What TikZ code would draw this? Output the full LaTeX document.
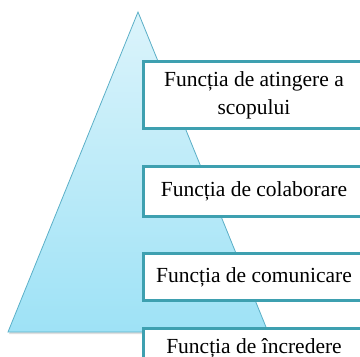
\documentclass[tikz,border=0pt]{standalone}
\usepackage{fontspec}
\setmainfont{Liberation Serif}
\usetikzlibrary{positioning, shadows}
\definecolor{myteal}{RGB}{62, 160, 176}
\definecolor{pyrtop}{RGB}{220, 244, 251}
\definecolor{pyrbottom}{RGB}{158, 226, 246}
\definecolor{pyredge}{RGB}{92, 176, 200}

\begin{document}
\begin{tikzpicture}[
    x=1pt, y=-1pt,
    level/.style={rectangle, draw=myteal, line width=3pt, fill=white, minimum width=221pt, anchor=north west, align=center, inner sep=0pt, font=\fontsize{21.5}{28}\selectfont},
    pyramid/.style={draw=pyredge, line width=0.8pt, top color=pyrtop, bottom color=pyrbottom, drop shadow={opacity=0.25, shadow xshift=1pt, shadow yshift=-2pt}}
]
\useasboundingbox (0,0) rectangle (360,357);
\clip (0,0) rectangle (360,357);

% Pyramid
\coordinate (apex) at (138,12);
\coordinate (baseL) at (8,332);
\coordinate (baseR) at (268,332);
\path[pyramid] (apex) -- (baseR) -- (baseL) -- cycle;

% Levels
\node[level, minimum height=67pt] (goal) at (142,60) {Funcția de atingere a\\scopului};
\node[level, minimum height=50pt, below=35pt of goal.south west, anchor=north west] (collab) {Funcția de colaborare};
\node[level, minimum height=47pt, below=34pt of collab.south west, anchor=north west] (comm) {Funcția de comunicare};
\node[level, minimum height=40pt, below=25pt of comm.south west, anchor=north west] (trust) {Funcția de încredere};

\end{tikzpicture}
\end{document}
